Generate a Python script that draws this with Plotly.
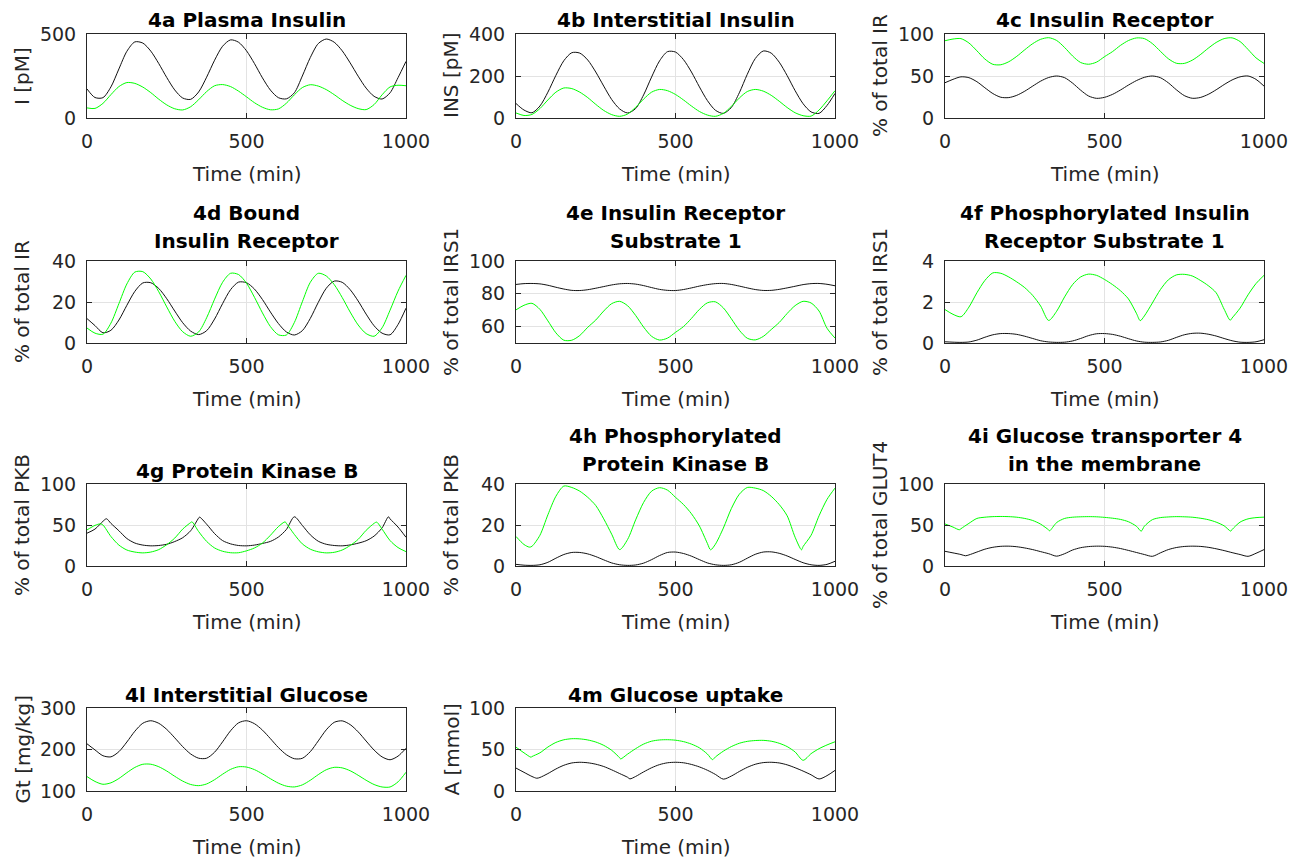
import plotly.graph_objects as go

# common time axis (min), sampled every 25 min
t = list(range(0, 1001, 25))

# 4a Plasma insulin I [pM]
I_black = [173,122,121,185,292,397,453,446,398,324,
           241,167,119,111,155,243,344,427,465,451,
           400,324,239,166,121,114,150,250,360,443,
           470,451,400,328,249,178,129,113,150,240,
           337]
I_green = [60,57,87,139,187,211,206,184,151,112,
           78,55,48,67,109,157,192,199,187,160,
           126,91,64,49,54,88,138,181,198,190,
           169,139,105,76,56,50,80,138,185,195,
           192]

# 4b Interstitial insulin INS [pM]
INS_black = [69,38,25,57,123,203,273,311,309,276,
             219,152,88,43,24,45,110,195,272,316,
             314,278,219,148,83,37,22,50,120,208,
             283,319,309,266,202,130,68,29,22,60,
             117]
INS_green = [24,12,17,45,86,123,143,140,123,97,
             65,36,16,8,19,51,90,123,136,130,
             112,86,57,31,14,8,22,55,95,126,
             136,128,108,80,50,25,11,9,38,82,
             130]

# 4c Insulin receptor (% of total IR)
IR_black = [42,46,49,48,43.2,36,29.1,24.7,24.3,27,
            31.9,38,43.9,48.2,50,48,41.5,33.2,26.2,23.4,
            24.6,28.1,33.3,39.2,44.5,48.4,50,48,41.9,33.7,
            26.7,23.5,24.4,28.1,33.6,39.8,45.3,49,50,46,
            38]
IR_green = [92,94,94.5,89.3,80,70.2,63.9,63.4,67,73.4,
            81.2,88.5,93.7,95.6,92.3,83.9,73.8,66.1,64,66.5,
            73,79,86.4,92.2,95.3,94.5,88.6,79.5,70.6,65.2,
            65,68.8,75.3,83,89.9,94.5,95.4,91,81.6,71.6,
            65]

# 4d Bound insulin receptor (% of total IR)
BIR_black = [11.9,8.5,5.0,6.2,11.2,18.4,25.2,29.3,29.4,26.6,
             21.6,15.6,9.9,5.8,4.1,6,11.7,19.2,26,29.7,
             29.4,26.3,21.2,15.1,9.5,5.4,3.9,6,12,19.8,
             26.7,30.2,29.6,26,20.5,14.1,8.4,4.8,4.0,9,
             17]
BIR_green = [7.3,4.8,4.3,9.7,19.2,28.8,34.6,34.8,31.2,25,
             17.6,10.6,5.5,3.3,5.4,12.3,21.4,29.6,34,33.4,
             29.2,22.3,14.7,8,4,3.9,10,20.1,29.6,34,
             32.7,28.5,22.2,15.1,8.8,4.6,3.3,7.4,16,25.3,
             33]

# 4e Insulin receptor substrate 1 (% of total IRS1)
IRS1_black = [85.7,86.2,86.3,86.05,85.2,84,82.9,82.1,82,82.5,
              83.4,84.4,85.4,86.1,86.3,85.9,85,83.8,82.7,82.1,
              82,82.6,83.6,84.7,85.6,86.2,86.3,85.7,84.7,83.6,
              82.6,82.05,82.1,82.7,83.6,84.6,85.6,86.2,86.3,85.8,
              84.9]
IRS1_green = [70.2,73,74.2,70.5,63.5,56.2,51.7,51.7,54.6,59.6,
              64,69.5,74,75.4,72.7,66.8,59.7,54.1,51.8,53,
              56.5,60,65,70.5,74.5,75.1,71.4,64.8,57.8,52.9,
              51.9,54,58.2,62.5,68,72.8,75.4,74.4,69.5,59,
              53]

# 4f Phosphorylated IRS1 (% of total IRS1)
pIRS1_black = [0.06,0.04,0.03,0.05,0.14,0.28,0.40,0.46,0.46,0.42,
               0.33,0.22,0.11,0.05,0.03,0.04,0.10,0.22,0.36,0.45,
               0.46,0.42,0.33,0.21,0.10,0.04,0.03,0.05,0.13,0.27,
               0.40,0.47,0.48,0.43,0.34,0.22,0.11,0.04,0.03,0.06,
               0.16]
pIRS1_green_t = [0,25,50,75,100,125,150,175,200,225,
                 250,275,300,325,350,375,400,425,450,475,
                 500,525,550,575,600,612,625,650,675,700,
                 725,750,775,800,825,850,875,894,900,925,
                 950,975,1000]
pIRS1_green = [1.63,1.40,1.28,1.75,2.45,3.05,3.42,3.40,3.22,2.98,
               2.70,2.32,1.80,1.10,1.55,2.25,2.85,3.22,3.36,3.30,
               3.10,2.85,2.55,2.15,1.45,1.09,1.32,1.95,2.60,3.08,
               3.32,3.35,3.27,3.06,2.80,2.45,1.65,1.11,1.22,1.70,
               2.35,2.90,3.30]

# 4g Protein kinase B (% of total PKB)
PKB_black_t = [0,25,50,61,75,100,125,150,175,200,
               225,250,275,300,325,350,353,375,400,425,
               450,475,500,525,550,575,600,625,650,675,
               700,725,750,775,800,825,850,875,900,925,
               945,950,975,1000]
PKB_black = [40,45,54.5,57.6,52,43,33.5,28,25.5,24.6,
             25,26.5,29.8,34.5,43,58.5,59.6,51,39.5,31,
             27,25,24.6,25.5,27.5,30,35.3,44.5,60,49.5,
             38,30.2,26.5,25,24.6,25.7,27.8,30.8,36.5,46.5,
             60,57.5,47.5,35]
PKB_green_t = [0,25,42,50,75,100,125,150,175,200,
               225,250,275,300,325,329,350,375,400,425,
               450,475,500,525,550,575,600,621,625,650,
               675,700,725,750,775,800,825,850,875,900,
               908,925,950,975,1000]
PKB_green = [44,49.5,51.4,50,36,25.5,19.5,17,16,17,
             20,26,34,45,53,53.9,42,30,22,18,
             16.2,16.2,18.5,22,28,37.5,48,53.9,52,38.5,
             27,20.5,17.3,16,16.7,19.5,25,32.5,43.5,52,
             53.5,45,31,22.5,17.5]

# 4h Phosphorylated PKB (% of total PKB)
pPKB_black = [0.8,0.4,0.3,0.6,1.8,3.8,5.6,6.6,6.6,5.9,
              4.6,3.0,1.5,0.6,0.3,0.5,1.4,3.1,5.1,6.6,
              6.8,6.1,4.8,3.1,1.5,0.6,0.3,0.6,1.8,3.8,
              5.7,6.8,6.9,6.2,4.9,3.2,1.6,0.6,0.3,0.8,
              2.3]
pPKB_green_t = [0,25,42,50,75,100,125,150,175,200,
                225,250,275,300,325,350,375,400,425,450,
                475,500,525,550,575,600,610,625,650,675,
                700,725,750,775,800,825,850,875,895,900,
                925,950,975,1000]
pPKB_green = [14.4,10.5,9.2,9.6,15,25,34,39,38.3,36.5,
              33.5,29.5,23,15.5,8,13,22.5,31,36.5,38.2,
              37,33.5,30,25.5,19.5,11,7.9,10.6,18.5,28,
              35,38.3,38,36.8,34,30,24.5,14,7.9,9.5,
              15,24.5,32.5,38]

# 4i GLUT4 in the membrane (% of total GLUT4)
GLUT4_black_t = [0,25,50,64,75,100,125,150,175,200,
                 225,250,275,300,325,350,375,400,425,450,
                 475,500,525,550,575,600,625,650,675,700,
                 725,750,775,800,825,850,875,900,925,950,
                 975,1000]
GLUT4_black = [17.9,16,14,12.5,13.5,17,20.5,22.8,24,24.2,
               23.5,22,20,17.5,15,12,15,19.5,22.3,23.7,
               24.2,24,23,21.3,19,16.5,14,11.8,16,20,
               22.5,23.8,24.2,23.9,22.8,21,18.8,16.3,14,11.8,
               15.5,20]
GLUT4_green_t = [0,25,45,50,75,100,125,150,175,200,
                 225,250,275,300,325,328,350,375,400,425,
                 450,475,500,525,550,575,600,615,625,650,
                 675,700,725,750,775,800,825,850,875,896,
                 900,925,950,975,1000]
GLUT4_green = [51.3,47.5,44.2,45.5,52,58,59.5,60.2,60.4,60.2,
               59.5,58,55.5,51,44,42.9,53,58,59.5,60,
               60.2,60,59.3,58.3,56.8,54,48.5,42.5,48.5,56.5,
               59,59.8,60.2,60,59.5,58.3,56.5,53.5,49,42.5,
               44.5,53.5,57.5,59,59.6]

# 4l Interstitial glucose Gt [mg/kg]
Gt_black = [213.7,199,185,182.3,194.8,218.1,244,263.3,269.3,263.1,
            248.4,228.2,206.9,189.2,179,179,193.5,218.4,245.1,264.2,
            269.3,262.2,246.7,226.1,204.7,187.5,177.8,178.8,194.8,220.7,
            247.4,265.5,269,260,242.6,220.4,198.6,182.2,175.3,184,
            203]
Gt_green = [134.7,123,116.2,119.7,130.1,144.1,156.8,164.4,164.5,158.5,
            148.1,135.5,123.9,115.7,112.9,117,127.3,140.4,152.1,158.4,
            157.7,151.5,141.3,129.6,118.9,111.7,109.8,114.8,125.9,139.5,
            151.2,157,155.7,148.8,137.9,125.9,115.6,109.7,109.7,122,
            145.2]

# 4m Glucose uptake A [mmol]
A_black_t = [0,25,50,65,75,100,125,150,175,200,
             225,250,275,300,325,350,357,375,400,425,
             450,475,500,525,550,575,600,625,650,675,
             700,725,750,775,800,825,850,875,900,925,
             950,975,1000]
A_black = [27.6,22.5,17.5,15.4,16.3,21,26.5,31,33.8,34.6,
           34,32.3,29.5,25.5,21,16.5,14.6,17.5,23,28,
           31.8,34,34.6,34,32,29,25,20,14.3,18,
           23.5,28.5,32.2,34.2,34.6,33.8,31.5,28,24,19.5,
           14.5,18.5,24.8]
A_green_t = [0,25,47,50,75,100,125,150,175,200,
             225,250,275,300,325,328,350,375,400,425,
             450,475,500,525,550,575,600,616,625,650,
             675,700,725,750,775,800,825,850,875,900,
             925,950,975,1000]
A_green = [52.8,46,40.7,41.5,46,53,58.5,61.7,63,62.8,
           61.5,59,55,49,40,38.6,44.5,51,56.5,60,
           61.5,61.8,61.2,59.5,56.5,52,44.5,37.8,41,48,
           53.5,57.5,59.8,60.8,61,60,57.5,53.5,47,37,
           45,51,55.5,59.3]

titles = [["4a Plasma Insulin"], ["4b Interstitial Insulin"], ["4c Insulin Receptor"],
          ["4d Bound", "Insulin Receptor"], ["4e Insulin Receptor", "Substrate 1"],
          ["4f Phosphorylated Insulin", "Receptor Substrate 1"],
          ["4g Protein Kinase B"], ["4h Phosphorylated", "Protein Kinase B"],
          ["4i Glucose transporter 4", "in the membrane"],
          ["4l Interstitial Glucose"], ["4m Glucose uptake"]]
ylabels = ["I [pM]", "INS [pM]", "% of total IR", "% of total IR", "% of total IRS1",
           "% of total IRS1", "% of total PKB", "% of total PKB", "% of total GLUT4",
           "Gt [mg/kg]", "A [mmol]"]
yranges = [[0, 500], [0, 400], [0, 100], [0, 40], [50, 100], [0, 4], [0, 100],
           [0, 40], [0, 100], [100, 300], [0, 100]]
yticks = [[0, 500], [0, 200, 400], [0, 50, 100], [0, 20, 40], [60, 80, 100], [0, 2, 4],
          [0, 50, 100], [0, 20, 40], [0, 50, 100], [100, 200, 300], [0, 50, 100]]
series = [(t, I_black, t, I_green), (t, INS_black, t, INS_green), (t, IR_black, t, IR_green),
          (t, BIR_black, t, BIR_green), (t, IRS1_black, t, IRS1_green),
          (t, pIRS1_black, pIRS1_green_t, pIRS1_green),
          (PKB_black_t, PKB_black, PKB_green_t, PKB_green),
          (t, pPKB_black, pPKB_green_t, pPKB_green),
          (GLUT4_black_t, GLUT4_black, GLUT4_green_t, GLUT4_green),
          (t, Gt_black, t, Gt_green), (A_black_t, A_black, A_green_t, A_green)]
xticks = [0, 500, 1000]

W, H = 1304, 859
col_px = [(87, 406), (516, 835), (945, 1264)]
row_px = [(34, 118), (261, 343), (484, 566), (708, 791)]
positions = [(0, 0), (0, 1), (0, 2), (1, 0), (1, 1), (1, 2), (2, 0), (2, 1), (2, 2), (3, 0), (3, 1)]

FONT = "DejaVu Sans"
AX = "#262626"
fig = go.Figure()
ann = []
layout = {}
for i, (r, c) in enumerate(positions):
    n = i + 1
    sfx = "" if n == 1 else str(n)
    xa, ya = "x" + sfx, "y" + sfx
    tb, b, tg, g = series[i]
    fig.add_trace(go.Scatter(x=tb, y=b, mode="lines", xaxis=xa, yaxis=ya, showlegend=False,
                             line=dict(color="#111111", width=1, shape="spline", smoothing=0.8)))
    fig.add_trace(go.Scatter(x=tg, y=g, mode="lines", xaxis=xa, yaxis=ya, showlegend=False,
                             line=dict(color="#00ff00", width=1, shape="spline", smoothing=0.8)))
    x0, x1 = col_px[c]
    y0, y1 = row_px[r]
    common = dict(showline=True, linecolor=AX, linewidth=1, mirror="ticks", ticks="inside",
                  ticklen=5, tickcolor=AX, tickwidth=1, showgrid=True, gridcolor="#e3e3e3",
                  gridwidth=1, zeroline=False, tickfont=dict(family=FONT, size=19, color=AX),
                  fixedrange=True, automargin=False)
    layout["xaxis" + sfx] = dict(common, domain=[x0 / W, x1 / W], anchor=ya, range=[0, 1000],
                                 tickvals=xticks, ticktext=[str(v) for v in xticks],
                                 ticklabelstandoff=6)
    layout["yaxis" + sfx] = dict(common, domain=[1 - y1 / H, 1 - y0 / H], anchor=xa,
                                 range=yranges[i], tickvals=yticks[i],
                                 ticktext=[str(v) for v in yticks[i]], ticklabelstandoff=6)
    xc = (x0 + x1) / 2 / W
    lines = titles[i]
    for k, txt in enumerate(lines):
        if len(lines) == 1:
            off = 13.5
        else:
            off = 20 + 28 * (len(lines) - 1 - k)
        ann.append(dict(text="<b>%s</b>" % txt, x=xc, y=1 - (y0 - off) / H, xref="paper",
                        yref="paper", xanchor="center", yanchor="middle", showarrow=False,
                        font=dict(family=FONT, size=20, color="#000000")))
    ann.append(dict(text="Time (min)", x=xc, y=1 - (y1 + 56) / H, xref="paper", yref="paper",
                    xanchor="center", yanchor="middle", showarrow=False,
                    font=dict(family=FONT, size=20, color=AX)))
    ann.append(dict(text=ylabels[i], x=(x0 - 65) / W, y=1 - (y0 + y1) / 2 / H, xref="paper",
                    yref="paper", xanchor="center", yanchor="middle", textangle=-90,
                    showarrow=False, font=dict(family=FONT, size=20, color=AX)))

fig.update_layout(**layout)
fig.update_layout(width=W, height=H, autosize=False, margin=dict(l=0, r=0, t=0, b=0),
                  paper_bgcolor="white", plot_bgcolor="white", annotations=ann,
                  showlegend=False, font=dict(family=FONT))
fig.write_html("out.html", config={"displayModeBar": False},
               post_script="document.body.style.margin='0';document.body.style.overflow='hidden';")
